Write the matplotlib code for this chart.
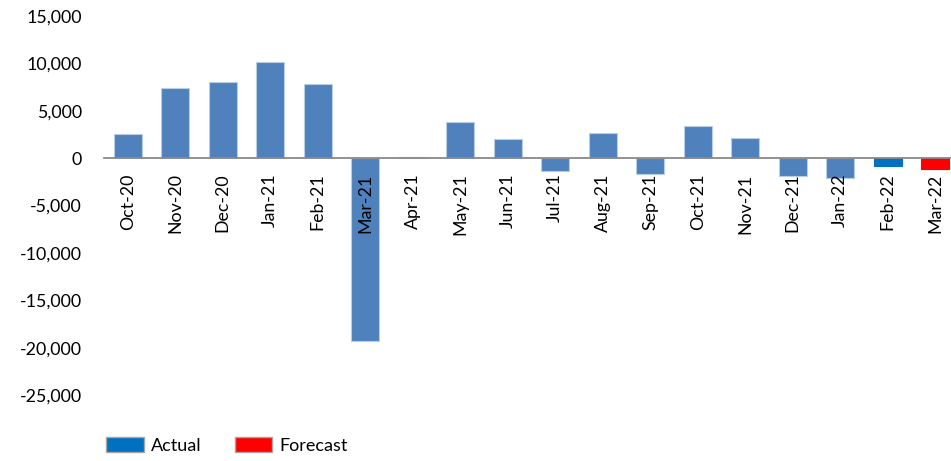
import matplotlib.pyplot as plt
from matplotlib.patches import Patch

months = ['Oct-20', 'Nov-20', 'Dec-20', 'Jan-21', 'Feb-21', 'Mar-21', 'Apr-21', 'May-21', 'Jun-21',
          'Jul-21', 'Aug-21', 'Sep-21', 'Oct-21', 'Nov-21', 'Dec-21', 'Jan-22', 'Feb-22', 'Mar-22']
values = [2500, 7450, 8000, 10150, 7800, -19300, 150, 3800, 1970,
          -1330, 2630, -1640, 3370, 2100, -1890, -2070, -840, -1150]
yticks = [15000, 10000, 5000, 0, -5000, -10000, -15000, -20000, -25000]

plt.rcParams['font.family'] = ['Lato', 'DejaVu Sans']

fig = plt.figure(figsize=(9.51, 4.61), dpi=100)
# plot area in pixels: x 104..959, y 16..395
ax = fig.add_axes([104 / 951, 1 - 395 / 461, 855 / 951, 379 / 461])

x = range(len(months))
bars = ax.bar(x, values, width=0.59, color='#4F81BD', edgecolor='#B9CDE5', linewidth=0.8, zorder=2)
# last two months: latest actual and forecast
bars[-2].set_color('#0070C0')
bars[-1].set_color('#FF0000')

# move the axis line to zero first (this resets tick settings)
for s in ['top', 'right', 'left']:
    ax.spines[s].set_visible(False)
ax.spines['bottom'].set_position(('data', 0))
ax.spines['bottom'].set_color('#898989')
ax.spines['bottom'].set_linewidth(1.3)
ax.spines['bottom'].set_zorder(3)
ax.set_axisbelow(False)  # month labels drawn over the bars

ax.set_xlim(-0.5, len(months) - 0.5)
ax.set_ylim(-25000, 15000)
ax.set_yticks(yticks)
ax.set_yticklabels([f'{v:,}' for v in yticks], fontsize=12.8)
ax.tick_params(axis='y', length=0, pad=16)

ax.set_xticks(list(x))
ax.set_xticklabels(months, rotation=90, fontsize=12.8)
ax.tick_params(axis='x', length=0, pad=11)

handles = [Patch(facecolor='#0070C0', edgecolor='#A6A6A6', label='Actual'),
           Patch(facecolor='#FF0000', edgecolor='#A6A6A6', label='Forecast')]
fig.legend(handles=handles, loc='upper left', bbox_to_anchor=(90 / 951, 1 - 421 / 461),
           ncol=2, frameon=False, fontsize=13, handlelength=2.1, handleheight=0.9,
           handletextpad=0.4, columnspacing=1.8)

fig.savefig('out.png', dpi=100)
